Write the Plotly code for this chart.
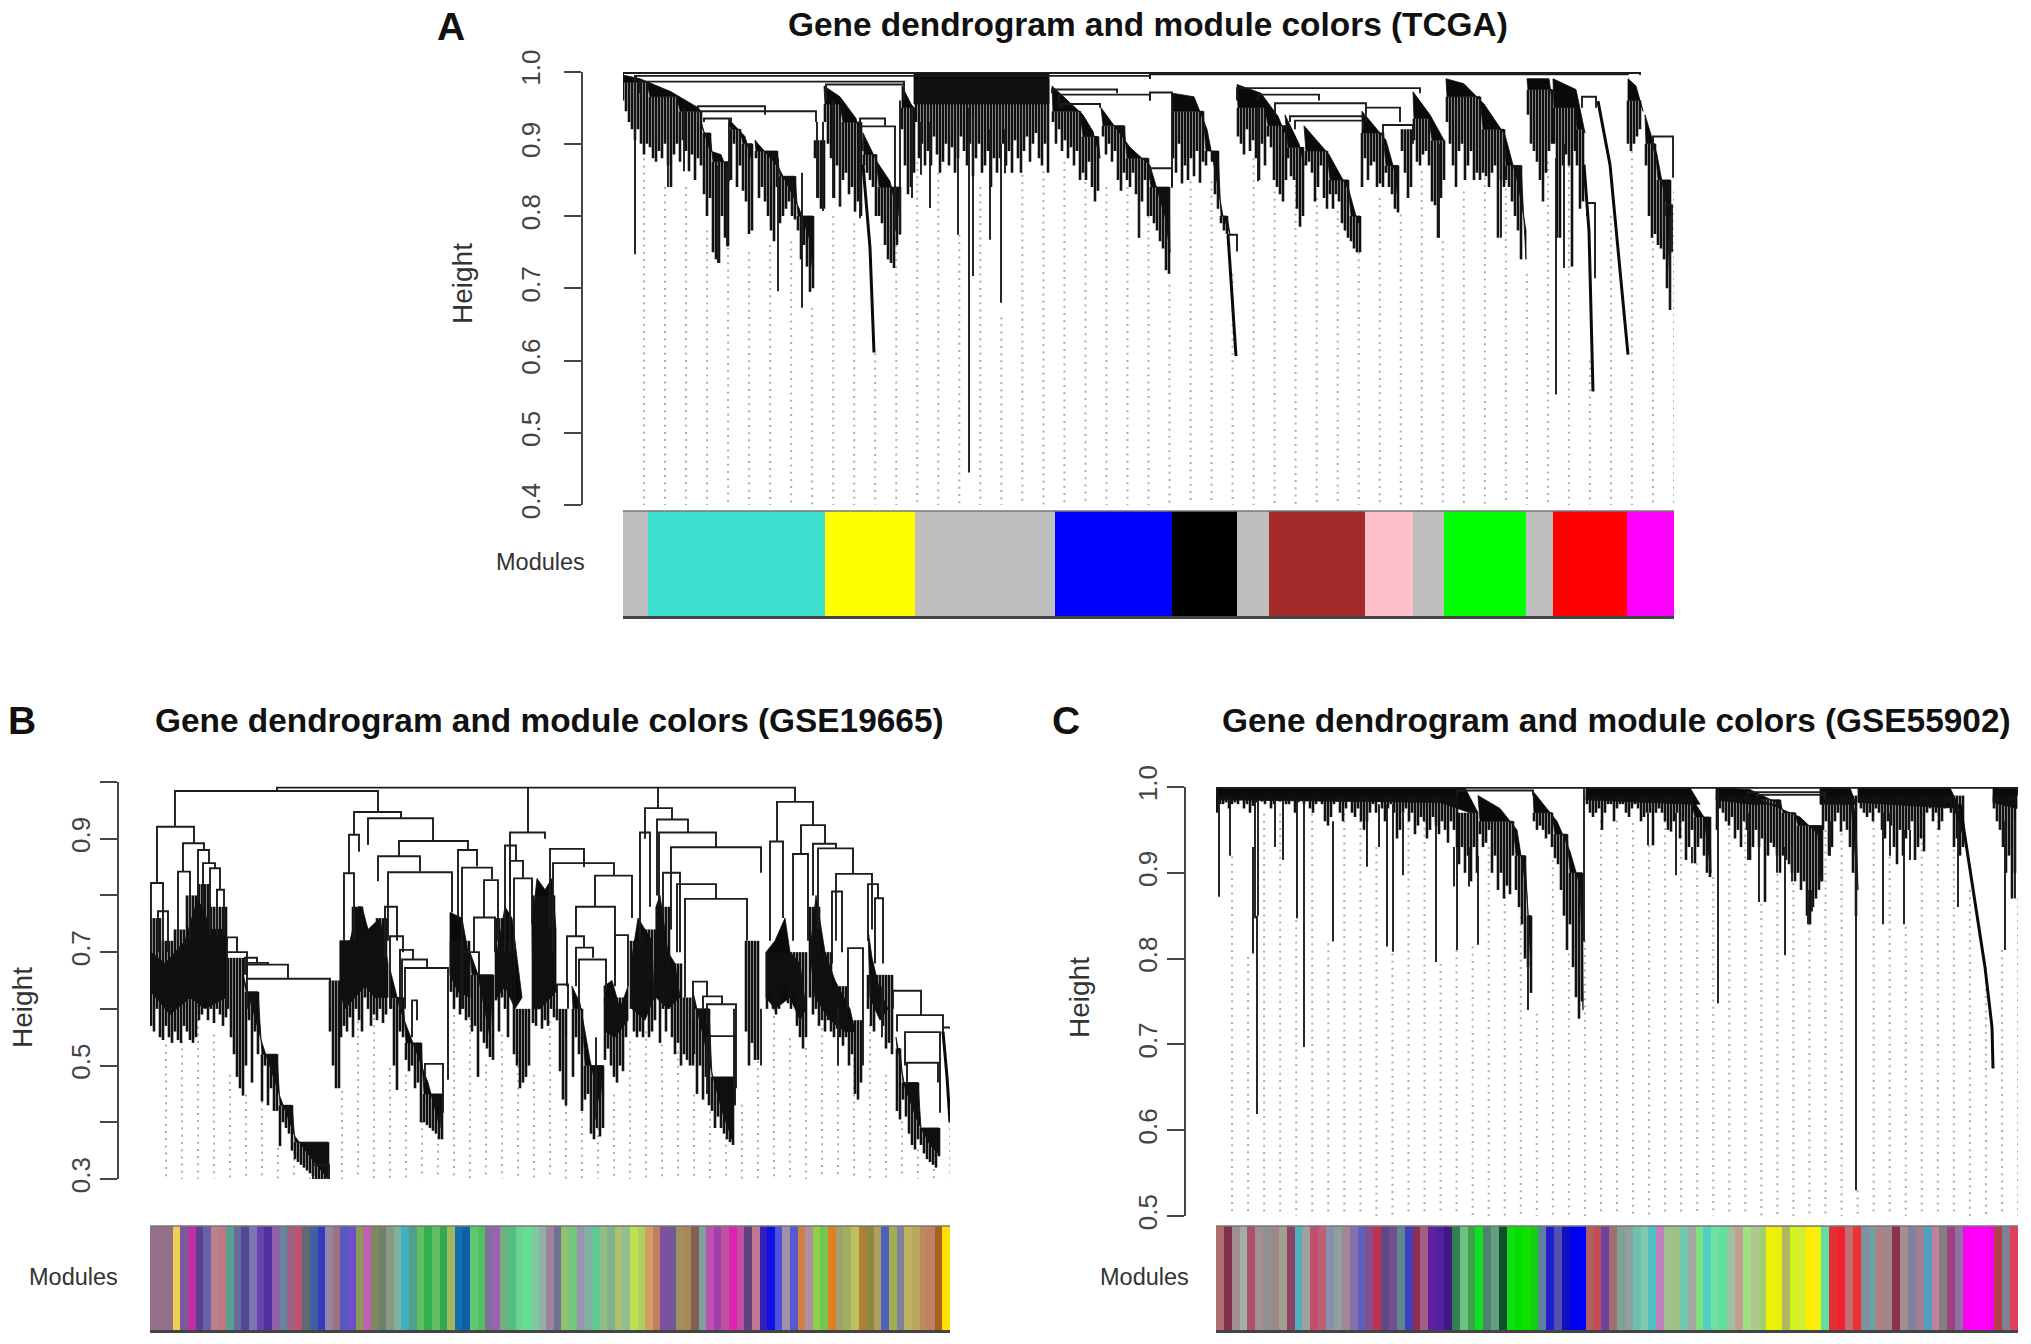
import plotly.graph_objects as go

W, H = 2031, 1344
FRINGE_STEP = 3  # leaf spacing of the drawn fringe columns

# ------------------------------------------------ panel A (TCGA)
A_TICKS = [0.4, 0.5, 0.6, 0.7, 0.8, 0.9, 1.0]
A_TICKTEXT = ["0.4", "0.5", "0.6", "0.7", "0.8", "0.9", "1.0"]
A_MODULE_EDGES = [623, 648, 825, 915, 1055, 1172, 1237, 1269, 1365, 1413, 1444, 1525.5, 1552.5, 1627, 1674]
A_MODULE_COLORS = ["#bebebe", "#40e0d0", "#ffff00", "#bebebe", "#0000ff", "#000000", "#bebebe", "#a52a2a",
                   "#ffc0cb", "#bebebe", "#00ff00", "#bebebe", "#ff0000", "#ff00ff"]
A_GUIDE_TOPS = [.88, .84, .84, .78, .756, .75, .76, .765, .673, .80, .79, .61, .84, .875, .86, .774, .84, .66, .857, .862,
                .875, .857, .84, .84, .83, .705, .848, .848, .72, .88, .834, .853, .825, .807, .75, .825, .802, .862, .765,
                .834, .853, .848, .72, .875, .89, .60, .80, .89, .765, .834]
A_MASSES = [[(914, .998), (1049, .998), (1049, .955), (914, .955)]]
A_SPINES = [
    [(623, .995), (640, .99), (671, .972), (698, .95)],
    [(701, .93), (710, .89), (721, .885), (728, .86)],
    [(728, .935), (745, .91), (752, .875)],
    [(755, .905), (779, .866), (799, .811), (809, .77), (813, .72)],
    [(824, .98), (840, .965), (856, .935), (863, .89)],
    [(863, .915), (877, .875), (890, .848), (898, .80)],
    [(902, .98), (911, .955)],
    [(1052, .98), (1083, .94), (1093, .917), (1100, .88)],
    [(1101, .95), (1130, .895), (1150, .87), (1165, .80), (1170, .75)],
    [(1172, .97), (1194, .965), (1207, .92), (1214, .87), (1223, .80), (1230, .775)],
    [(1237, .982), (1261, .97), (1278, .938), (1285, .915)],
    [(1285, .94), (1299, .90), (1304, .87)],
    [(1304, .925), (1329, .885), (1349, .835), (1358, .79)],
    [(1362, .945), (1386, .905), (1395, .86), (1398, .82)],
    [(1413, .972), (1430, .94), (1444, .905)],
    [(1446, .99), (1464, .983), (1484, .955), (1505, .912), (1518, .845), (1526, .78), (1526, .74)],
    [(1527, .99), (1549, .99), (1552, .96)],
    [(1553, .99), (1576, .975), (1585, .915)],
    [(1628, .99), (1636, .98), (1643, .945)],
    [(1645, .94), (1657, .885), (1667, .81), (1670, .70)],
]
# (first leaf, top of group, bottoms of the columns)
A_FRINGES = [
    (623, .985, [.96, .945, .93, .92, .905, .92, .90, .885, .90]),
    (650, .965, [.895, .88, .875, .89, .88, .90, .87, .84, .885, .90]),
    (680, .945, [.875, .905, .89, .862, .885, .85, .88, .87]),
    (704, .915, [.83, .80, .825]),
    (713, .875, [.75, .74, .735, .80, .77, .758]),
    (731, .92, [.85, .90, .84, .87]),
    (743, .90, [.835, .82, .775, .78]),
    (756, .89, [.88, .825, .84, .82, .80, .78, .765, .84]),
    (780, .855, [.79, .80, .81, .82, .80, .795]),
    (798, .80, [.78, .74, .76, .73, .695, .70]),
    (815, .905, [.88, .825, .81, .81]),
    (825, .955, [.93, .90, .88, .825, .87, .813]),
    (843, .93, [.85, .86, .83, .84, .806, .82, .80]),
    (864, .885, [.87, .86, .85, .84, .80]),
    (879, .84, [.80, .79, .76, .74, .735, .728, .76, .775]),
    (902, .95, [.92, .87, .83, .84, .86]),
    (916, .99, [.93, .88, .90, .87, .89, .87, .91, .885, .86, .875, .90, .87, .895, .86, .88, .91, .89, .87, .90, .855, .88, .90, .86,
                .87, .89, .84, .88, .86, .88, .90, .87, .89, .86, .905, .88, .86, .89, .91, .875, .90, .915, .88, .87, .90, .86]),
    (1053, .945, [.93, .90, .92, .89, .905, .88, .895, .87, .89, .85]),
    (1083, .91, [.86, .85, .875, .84, .82, .835]),
    (1103, .925, [.91, .885, .90, .875, .89, .85, .835, .86]),
    (1127, .88, [.85, .84, .86, .83, .77, .82, .85, .80]),
    (1151, .84, [.80, .79, .78, .765, .755, .725, .72]),
    (1173, .945, [.88, .86, .90, .845, .87, .85, .88, .855, .89, .846, .875]),
    (1206, .89, [.87, .89, .875, .83, .81]),
    (1221, .80, [.79, .78, .775]),
    (1238, .95, [.91, .90, .885, .92, .89, .905, .88, .85, .90, .87]),
    (1268, .925, [.91, .895, .85, .84, .83, .82, .85]),
    (1288, .895, [.88, .855, .85, .81, .785, .80]),
    (1306, .89, [.87, .875, .86, .82, .84, .87, .825, .81]),
    (1330, .85, [.83, .81, .83, .82, .79, .78, .77]),
    (1351, .80, [.765, .755, .75, .75]),
    (1362, .915, [.84, .88, .85, .87, .875, .84, .845, .84]),
    (1386, .87, [.86, .84, .83, .81, .805]),
    (1402, .92, [.89, .86, .825, .84]),
    (1414, .935, [.905, .875, .87, .885, .89, .87]),
    (1432, .905, [.82, .815, .77, .825, .85]),
    (1447, .965, [.93, .90, .87, .84, .89, .90, .85, .87, .89, .85, .86, .85]),
    (1483, .92, [.86, .855, .84, .86, .87, .77, .85, .84]),
    (1506, .87, [.85, .84, .82, .80, .78, .74]),
    (1528, .975, [.94, .90, .89, .875, .85, .82, .86, .89, .90]),
    (1554, .95, [.90, .77, .77, .87, .885, .87, .73, .89]),
    (1577, .92, [.87, .81, .82]),
    (1628, .96, [.90, .89, .90, .91, .92]),
    (1646, .90, [.87, .80, .77, .775]),
    (1658, .85, [.76, .755, .74, .70, .67]),
]
A_CURVES = [
    [(863, .871), (870, .756), (874, .611)],
    [(1228, .774), (1231, .714), (1236, .606)],
    [(1584, .871), (1589, .779), (1593, .557)],
    [(1598, .959), (1610, .871), (1628, .608)],
]
# x, top, bottom of single leaf drops
A_DROPS = [(635, .995, .747), (668, .96, .84), (684, .95, .862), (718, .87, .735), (727, .87, .758), (729, .93, .848),
           (778, .88, .696), (802, .86, .673), (817, .93, .825), (823, .93, .807), (833, .96, .825), (840, .94, .813), (860, .91, .797),
           (900, .96, .774), (912, .95, .825), (921, .93, .857), (930, .93, .811), (958, .93, .774),
           (969, .95, .445), (973, .94, .717), (990, .92, .767), (1001, .90, .68), (1005, .92, .859), (1139, .85, .77),
           (1172, .97, .839), (1258, .95, .848), (1556, .88, .553), (1564, .90, .728), (1670, .80, .67), (1439, .90, .77), (1501, .90, .77)]
# x left, x right, height, bottom of left leg, bottom of right leg
A_LINKS = [(623, 1640, .998, .99, .995), (636, 1150, .994, .99, .99), (640, 904, .986, .97, .98), (1150, 1628, .996, .99, .995),
           (826, 904, .982, .96, .96), (698, 765, .952, .94, .94), (698, 816, .945, .93, .93), (704, 731, .935, .93, .93),
           (860, 885, .935, .92, .925), (860, 895, .924, .90, .78), (1052, 1117, .975, .97, .97), (1059, 1150, .968, .95, .96),
           (1062, 1100, .955, .95, .95), (1150, 1172, .971, .96, .965), (1237, 1420, .977, .96, .97), (1258, 1319, .968, .96, .96),
           (1275, 1366, .956, .94, .95), (1290, 1366, .938, .93, .93), (1295, 1363, .932, .92, .92), (1366, 1400, .95, .94, .93),
           (1383, 1413, .926, .90, .90), (1150, 1172, .866, .85, .84), (1228, 1237, .774, .76, .751), (1587, 1595, .818, .80, .714),
           (1582, 1596, .965, .95, .95), (1653, 1673, .91, .89, .853), (1665, 1672, .815, .80, .75)]

# ------------------------------------------------ panel B (GSE19665)
B_TICKS = [0.3, 0.4, 0.5, 0.6, 0.7, 0.8, 0.9, 1.0]
B_TICKTEXT = ["0.3", "", "0.5", "", "0.7", "", "0.9", ""]
B_MODULE_COLORS = ["#94708a", "#94708a", "#94708a", "#f0d050", "#7a5a9a", "#c030a0", "#5a4090", "#6a60a8", "#b88090", "#c07880", "#5aa090",
                   "#6a6aa0", "#504898", "#7a78b0", "#6a40b0", "#5030a0", "#9060a8", "#60889a", "#a06080", "#c05070", "#606870", "#4060a0",
                   "#3838c0", "#9088a0", "#a07080", "#5858c0", "#7050c8", "#8a9a50", "#c060b0", "#808860", "#70806a", "#8a9a80", "#80b0a0",
                   "#40b0c0", "#50a088", "#60c060", "#30b050", "#60c060", "#30a858", "#a0b860", "#1070b0", "#1060a8", "#60c870", "#50c060",
                   "#8070a0", "#a060b0", "#70b080", "#50c080", "#70d090", "#60e090", "#80c8a0", "#90b0a0", "#a080a0", "#707090", "#90c070",
                   "#70c880", "#a090b0", "#80b0a0", "#60c890", "#90c080", "#80b090", "#b0c070", "#90c090", "#c0e050", "#b0d060", "#d0a060",
                   "#c08060", "#8050a0", "#705898", "#a09060", "#a88858", "#806050", "#80a0a0", "#c050b0", "#a040b0", "#c050a0", "#e020b0",
                   "#c050a0", "#604080", "#c07890", "#3020c0", "#1010e0", "#5050d8", "#a090a8", "#5858d0", "#d08040", "#b090a0", "#90d050",
                   "#70c850", "#e08020", "#a0a070", "#a0b060", "#c0c060", "#b08030", "#8a8a40", "#b0a060", "#5060c0", "#a0b050", "#8080a0",
                   "#c0b060", "#b8a858", "#c08860", "#c08060", "#a86020", "#ffe000"]
B_GUIDE_TOPS = [.537, .543, .607, .555, .484, .449, .437, .355, .349, .302, .285, .455, .578, .584, .496, .484, .402, .375, .602, .584,
                .502, .555, .525, .484, .578, .431, .419, .390, .449, .543, .560, .537, .525, .449, .419, .373, .431, .508, .613, .548,
                .531, .566, .566, .513, .572, .484, .402, .352, .343, .402]
B_MASSES = [
    [(151, .70), (165, .68), (185, .72), (197, .79), (203, .78), (210, .74), (226, .74), (226, .62), (205, .60), (190, .62), (170, .59), (151, .63)],
    [(340, .72), (350, .72), (358, .78), (362, .78), (368, .74), (380, .76), (388, .68), (388, .62), (375, .62), (365, .64), (355, .62), (345, .60), (340, .63)],
    [(450, .77), (462, .76), (470, .68), (470, .62), (458, .63), (450, .66)],
    [(497, .70), (505, .78), (512, .76), (522, .62), (515, .60), (505, .64), (497, .62)],
    [(532, .75), (537, .83), (545, .81), (552, .83), (556, .74), (556, .63), (540, .60), (533, .60)],
    [(604, .64), (612, .65), (620, .60), (628, .64), (628, .58), (615, .55), (605, .56)],
    [(631, .68), (638, .76), (645, .74), (652, .72), (654, .62), (645, .58), (632, .60)],
    [(656, .78), (660, .80), (668, .70), (675, .68), (680, .62), (668, .60), (656, .62)],
    [(766, .70), (775, .72), (785, .76), (790, .70), (800, .68), (806, .60), (800, .58), (790, .62), (775, .60), (766, .62)],
    [(810, .70), (816, .80), (825, .70), (835, .65), (850, .60), (855, .56), (845, .56), (830, .58), (815, .62)],
    [(868, .74), (872, .69), (880, .63), (888, .60), (880, .58), (870, .62)],
]
B_SPINES = [
    [(243, .66), (262, .54), (280, .445), (295, .375), (312, .335), (328, .30)],
    [(390, .67), (400, .60), (415, .53), (428, .47), (440, .39)],
    [(470, .70), (478, .66), (490, .55)],
    [(572, .64), (580, .61), (590, .51), (600, .43)],
    [(693, .63), (710, .50), (722, .42), (732, .37)],
    [(896, .55), (905, .46), (918, .40), (930, .36), (938, .345)],
]
B_FRINGES = [
    (151, .76, [.57, .56, .60, .55]),
    (163, .72, [.545, .57, .55, .54]),
    (175, .74, [.56, .545, .54, .57]),
    (187, .80, [.56, .545, .54, .55]),
    (199, .82, [.58, .59, .615, .58]),
    (211, .78, [.60, .575, .60, .59, .57, .585]),
    (228, .69, [.60, .55, .52, .48, .46, .447]),
    (246, .63, [.50, .58, .47, .56, .52]),
    (262, .52, [.437, .50, .43, .46, .42, .42]),
    (280, .43, [.358, .40, .39, .38, .35]),
    (295, .365, [.335, .33, .325, .32, .315, .31, .305, .30, .295, .29, .288, .285]),
    (330, .65, [.56, .50, .46, .46]),
    (341, .72, [.55, .57, .56, .585]),
    (353, .78, [.55, .60, .58, .56]),
    (365, .74, [.62, .60, .57, .59]),
    (377, .76, [.58, .60, .575, .59]),
    (391, .62, [.60, .50, .457, .56, .55]),
    (406, .54, [.51, .49, .50, .46, .47, .40]),
    (424, .45, [.40, .395, .39, .385, .38, .37, .37]),
    (451, .72, [.63, .60, .62, .59, .60, .58, .585]),
    (472, .66, [.56, .57, .48, .56, .54, .53, .515, .51]),
    (496, .76, [.615, .56, .62, .60]),
    (508, .72, [.55, .62, .52]),
    (517, .60, [.50, .46, .47, .48, .50]),
    (533, .80, [.575, .57, .60, .565, .58, .57, .60, .585]),
    (557, .60, [.58, .49, .44, .43]),
    (573, .60, [.48, .55, .52, .42]),
    (585, .50, [.44, .45, .38, .37, .39, .375, .39]),
    (605, .62, [.51, .53, .50, .48, .47, .50, .49, .55]),
    (631, .72, [.60, .56, .55]),
    (640, .74, [.56, .55, .60, .55, .56, .58]),
    (657, .78, [.62, .54, .60, .56, .60]),
    (672, .68, [.55, .52, .54, .50]),
    (684, .62, [.52, .51, .50, .50]),
    (694, .60, [.52, .45, .50, .44, .48, .43]),
    (712, .48, [.42, .39, .41, .39, .38, .37, .365, .36]),
    (746, .72, [.56, .50, .54, .51, .51]),
    (767, .70, [.60, .62, .60, .59, .60, .62, .64, .61, .60, .62, .57, .55, .53, .55]),
    (810, .78, [.62, .59, .60, .57]),
    (822, .70, [.58, .56, .58, .56]),
    (834, .64, [.55, .565, .55, .535, .55]),
    (849, .58, [.50, .52, .45, .44, .47]),
    (868, .66, [.60, .57, .56, .60, .59, .57, .53, .54, .52]),
    (897, .53, [.42, .405]),
    (903, .47, [.44, .41, .38, .36, .352, .37]),
    (921, .39, [.36, .345, .335, .33, .325, .32, .34]),
]
B_CURVES = [[(943, .56), (947, .48), (950, .40)]]
B_DROPS = [(596, .55, .405), (566, .55, .43), (734, .60, .46), (735, .55, .43), (707, .55, .45),
           (761, .60, .50), (951, .56, .534), (838, .60, .50), (882, .64, .55)]
B_LINKS = [(277, 795, .99, .985, .965), (175, 378, .984, .921, .947), (157, 194, .921, .822, .892), (151, 163, .822, .70, .70),
           (158, 168, .772, .70, .70), (183, 204, .892, .842, .88), (178, 190, .842, .70, .72), (198, 209, .88, .79, .857),
           (203, 215, .857, .778, .848), (210, 220, .848, .73, .81), (217, 224, .81, .73, .73), (227, 237, .726, .70, .70),
           (227, 247, .70, .60, .66), (245, 257, .69, .66, .68), (247, 268, .681, .66, .678), (247, 288, .678, .653, .653),
           (247, 330, .653, .60, .60), (354, 401, .947, .907, .936), (368, 433, .936, .889, .896), (349, 359, .907, .839, .877),
           (344, 354, .839, .72, .72), (399, 468, .896, .869, .88), (378, 420, .869, .825, .842), (388, 452, .841, .72, .77),
           (458, 477, .88, .76, .851), (462, 492, .849, .70, .829), (484, 498, .827, .76, .72), (474, 495, .761, .70, .70),
           (462, 479, .70, .60, .66), (385, 397, .78, .69, .72), (390, 403, .728, .60, .70), (400, 413, .704, .60, .687),
           (402, 427, .687, .60, .672), (405, 448, .672, .60, .475), (412, 417, .615, .55, .58), (425, 443, .503, .47, .417),
           (510, 545, .911, .80, .90), (505, 516, .888, .70, .861), (510, 523, .861, .70, .83), (514, 532, .83, .70, .75),
           (550, 584, .882, .74, .85), (553, 614, .857, .70, .835), (595, 632, .835, .78, .76), (576, 615, .78, .728, .66),
           (567, 584, .728, .64, .708), (576, 593, .708, .64, .69), (579, 606, .687, .60, .63), (557, 568, .643, .58, .60),
           (615, 628, .73, .64, .64), (645, 672, .954, .90, .934), (640, 650, .911, .72, .78), (657, 688, .934, .80, .911),
           (659, 716, .911, .78, .885), (671, 761, .885, .74, .84), (663, 680, .84, .76, .70), (677, 716, .82, .70, .794),
           (685, 747, .794, .62, .72), (693, 707, .648, .58, .622), (703, 722, .622, .60, .608), (707, 736, .608, .57, .46),
           (710, 735, .552, .50, .43), (777, 813, .965, .895, .924), (770, 783, .895, .72, .76), (801, 825, .924, .873, .891),
           (793, 808, .873, .72, .72), (813, 836, .891, .80, .883), (818, 853, .883, .74, .838), (836, 872, .838, .72, .74),
           (832, 842, .807, .68, .70), (848, 863, .707, .60, .50), (868, 878, .82, .72, .795), (875, 883, .795, .68, .68),
           (893, 921, .632, .60, .589), (897, 943, .589, .56, .567), (905, 940, .559, .50, .417), (907, 938, .505, .47, .47),
           (943, 951, .567, .55, .534), (528, 528, .99, .911, .911), (658, 658, .99, .954, .954), (313, 329, .325, .30, .30)]

# ------------------------------------------------ panel C (GSE55902)
C_TICKS = [0.5, 0.6, 0.7, 0.8, 0.9, 1.0]
C_TICKTEXT = ["0.5", "0.6", "0.7", "0.8", "0.9", "1.0"]
C_MODULE_COLORS = ["#b07070", "#803050", "#a09090", "#a0b0a8", "#b05070", "#a09090", "#909090", "#a08888", "#a0a090", "#904060", "#50b0c0",
                   "#a0a0a0", "#c05070", "#c06070", "#8890b0", "#90a0a0", "#a08898", "#8870a8", "#6060c0", "#805090", "#c03050", "#604880",
                   "#705090", "#608890", "#4040c0", "#903050", "#a06080", "#6020a0", "#5020a0", "#401880", "#308050", "#70c080", "#40a050",
                   "#10e020", "#508070", "#60a080", "#105030", "#10e010", "#00e000", "#10e000", "#10d010", "#6080a0", "#2020d0", "#5050b0",
                   "#1010c0", "#0000f0", "#0000ff", "#b06060", "#c05050", "#7040a0", "#a07070", "#80a090", "#90a0a0", "#70c0b0", "#80c8b0",
                   "#50c0c0", "#c080c0", "#a0c090", "#a0c080", "#70c8b0", "#a0a8a0", "#80e080", "#50d0c0", "#70e0a0", "#60e0a0", "#a0c0a0",
                   "#c0a090", "#a0e080", "#b0c890", "#a0d070", "#f0f000", "#e8f010", "#b0b860", "#d0f020", "#d0f030", "#ffea00", "#f8f010",
                   "#60e0a0", "#e03030", "#f02030", "#c07070", "#f03030", "#8090a0", "#70a0a0", "#b08080", "#a08888", "#903050", "#a09090",
                   "#8080a0", "#a08090", "#50a0c0", "#c080a0", "#808080", "#a04080", "#9070a0", "#ff00f0", "#ff00ff", "#ff00ff", "#f800f0",
                   "#b04050", "#808090", "#e04060"]
C_GUIDE_TOPS = [.919, .802, .969, .969, .845, .969, .818, .969, .969, .93, .806, .969, .961, .794, .81, .814, .93, .872, .849, .736,
                .915, .806, .821, .961, .961, .958, .932, .969, .969, .911, .895, .969, .961, .864, .899, .888, .841, .95, .946, .53,
                .969, .919, .837, .969, .969, .969, .88, .79, .81, .87]
C_MASSES = [
    [(1216, .999), (1465, .999), (1478, .97), (1470, .97), (1440, .982), (1216, .985)],
    [(1586, .999), (1690, .999), (1700, .98), (1690, .98), (1586, .985)],
    [(1716, .999), (1750, .997), (1780, .98), (1750, .98), (1716, .985)],
    [(1820, .999), (1850, .999), (1856, .98), (1820, .98)],
    [(1858, .999), (1950, .999), (1960, .975), (1858, .982)],
    [(1993, .999), (2017, .999), (2017, .975), (1993, .982)],
]
C_SPINES = [
    [(1478, .99), (1500, .975), (1517, .95), (1527, .875), (1531, .79)],
    [(1533, .995), (1557, .96), (1570, .925), (1580, .885), (1582, .82), (1583, .74)],
    [(1690, .99), (1704, .965), (1711, .90)],
    [(1750, .99), (1800, .965), (1818, .945), (1821, .89)],
    [(1850, .995), (1856, .965), (1858, .88)],
    [(1950, .99), (1960, .97), (1964, .94)],
]
C_FRINGES = [
    (1217, .99, [.97, .98, .98, .982, .975, .98, .982, .98, .985, .975, .98, .97, .978, .982, .985, .983, .98, .985, .975, .98, .985, .983, .985, .98, .98,
                 .985, .97, .982, .985, .98, .985, .975, .97, .98, .985, .98, .96, .955, .965, .98, .983, .97, .96, .975, .985, .97, .965, .975, .96, .95,
                 .96, .97, .98, .97, .985, .975, .96, .975, .98, .97, .94, .95, .97, .975, .96, .97, .945, .955, .965, .96, .94, .95, .965, .955, .945, .96,
                 .95, .935, .96, .95, .93]),
    (1459, .97, [.91, .93, .90, .92, .89, .93, .90]),
    (1480, .96, [.945, .93, .935, .95, .90, .92, .88, .90, .87, .885, .875, .92]),
    (1516, .92, [.88, .86, .84, .80]),
    (1528, .85, [.79, .76]),
    (1534, .97, [.96, .95, .955, .95, .94, .945, .93]),
    (1555, .945, [.917, .91, .88, .85, .81]),
    (1570, .90, [.84, .79, .755, .73, .75]),
    (1587, .99, [.98, .97, .965, .97, .975, .95, .97, .98, .98, .96, .975, .98, .98, .97, .965, .975, .98, .975, .96, .965, .97, .97, .932, .97, .975, .97,
                 .96, .95, .948, .96, .97, .94, .96, .915, .93, .95]),
    (1695, .965, [.911, .93, .94, .92, .90, .895]),
    (1717, .99, [.95, .975, .97, .96, .955, .965, .94, .95, .93, .96, .95, .915]),
    (1753, .985, [.93, .95, .93, .94, .866, .92, .935, .93, .92, .90]),
    (1783, .97, [.92, .915, .91, .90, .89]),
    (1798, .955, [.90, .88, .89, .85, .84, .86, .87, .88, .89]),
    (1823, .99, [.95, .96, .92, .93, .96, .97, .948, .96, .95, .93, .90, .85]),
    (1861, .99, [.975, .97, .965, .97, .96, .975, .97, .95, .94, .96, .955, .93, .91, .95, .92, .94, .95, .96, .915, .93, .94, .925, .97, .975, .96, .97, .95,
                 .96, .975, .98, .97, .93, .94, .92, .93]),
    (1994, .99, [.975, .96, .95, .93, .90, .92, .87, .90]),
]
C_CURVES = [[(1960, .98), (1972, .89), (1985, .79), (1992, .72), (1993, .672)]]
C_DROPS = [(1219, .985, .872), (1230, .985, .92), (1255, .985, .847), (1258, .985, .85), (1253, .93, .806), (1257, .85, .619), (1275, .985, .93), (1283, .985, .915),
           (1297, .985, .847), (1304, .985, .697), (1333, .96, .82), (1367, .985, .907), (1379, .98, .93), (1387, .98, .814),
           (1393, .98, .808), (1403, .97, .897), (1436, .96, .796), (1457, .93, .81), (1454, .93, .884), (1469, .93, .884), (1478, .92, .816),
           (1584, .998, .82), (1648, .97, .932), (1676, .97, .897), (1692, .93, .911), (1718, .998, .748), (1748, .97, .915), (1759, .95, .866),
           (1777, .93, .90), (1785, .93, .804), (1792, .93, .89), (1808, .88, .84), (1812, .88, .855), (1830, .96, .92), (1856, .95, .53),
           (1883, .97, .84), (1890, .97, .92), (1904, .95, .84), (1910, .95, .915), (1958, .96, .86), (2005, .96, .81), (2015, .96, .87),
           (1528, .85, .74)]
C_LINKS = [(1216, 2018, .999, .99, .99), (1457, 1533, .996, .99, .99), (1748, 1825, .994, .99, .99), (1757, 1825, .991, .985, .985)]


def fill_xy(masses):
    xs, ys = [], []
    for poly in masses:
        xs += [q[0] for q in poly] + [poly[0][0], None]
        ys += [q[1] for q in poly] + [poly[0][1], None]
    return xs, ys


def line_xy(curves):
    xs, ys = [], []
    for c in curves:
        xs += [q[0] for q in c] + [None]
        ys += [q[1] for q in c] + [None]
    return xs, ys


def tree_xy(links, drops):
    xs, ys = [], []
    for x0, x1, h, l0, l1 in links:
        xs += [x0, x0, x1, x1, None]
        ys += [l0, h, h, l1, None]
    for x, top, low in drops:
        xs += [x, x, None]
        ys += [top, low, None]
    return xs, ys


def fringe_xy(groups):
    xs, ys = [], []
    for x0, top, lows in groups:
        for k, low in enumerate(lows):
            xs += [x0 + k * FRINGE_STEP, x0 + k * FRINGE_STEP, None]
            ys += [top, low, None]
    return xs, ys


def spine_polys(spines, groups):
    """Close each cascade's upper edge along the tops of the columns that lie wholly under it."""
    polys = []
    for s in spines:
        lo, hi = min(q[0] for q in s) - 3, max(q[0] for q in s) + 3
        poly = list(s)
        for x0, top, lows in sorted(groups, key=lambda g: -g[0]):
            last = x0 + (len(lows) - 1) * FRINGE_STEP
            if lo <= x0 and last <= hi:
                poly += [(last, top), (x0, top)]
        polys.append(poly)
    return polys


PANELS = [
    dict(tag="A", x0=623, x1=1674, axis_x=582, y_top=71.5, y_bot=505, lo=0.4, hi=1.0, ticks=A_TICKS, text=A_TICKTEXT, standoff=14,
         bar_top=511, bar_bot=616, guide=A_GUIDE_TOPS, guide_lo=0.392, masses=A_MASSES, spines=A_SPINES, fringes=A_FRINGES,
         curves=A_CURVES, links=A_LINKS, drops=A_DROPS,
         title="Gene dendrogram and module colors (TCGA)", title_xy=(1148, 24), letter_xy=(451, 26),
         height_xy=(462, 284), modules_xy=(540, 562)),
    dict(tag="B", x0=150, x1=950, axis_x=118, y_top=782, y_bot=1179, lo=0.3, hi=1.0, ticks=B_TICKS, text=B_TICKTEXT, standoff=0,
         bar_top=1226, bar_bot=1330, guide=B_GUIDE_TOPS, guide_lo=0.222, masses=B_MASSES, spines=B_SPINES, fringes=B_FRINGES,
         curves=B_CURVES, links=B_LINKS, drops=B_DROPS,
         title="Gene dendrogram and module colors (GSE19665)", title_xy=(549, 720), letter_xy=(22, 720),
         height_xy=(22, 1008), modules_xy=(73, 1277)),
    dict(tag="C", x0=1216, x1=2018, axis_x=1185, y_top=787, y_bot=1216, lo=0.5, hi=1.0, ticks=C_TICKS, text=C_TICKTEXT, standoff=0,
         bar_top=1226, bar_bot=1330, guide=C_GUIDE_TOPS, guide_lo=0.489, masses=C_MASSES, spines=C_SPINES, fringes=C_FRINGES,
         curves=C_CURVES, links=C_LINKS, drops=C_DROPS,
         title="Gene dendrogram and module colors (GSE55902)", title_xy=(1616, 720), letter_xy=(1066, 720),
         height_xy=(1079, 998), modules_xy=(1144, 1277)),
]
MODULES = {
    "A": (A_MODULE_EDGES, A_MODULE_COLORS),
    "B": ([150 + 800 * i / len(B_MODULE_COLORS) for i in range(len(B_MODULE_COLORS) + 1)], B_MODULE_COLORS),
    "C": ([1216 + 802 * i / len(C_MODULE_COLORS) for i in range(len(C_MODULE_COLORS) + 1)], C_MODULE_COLORS),
}

SANS = "Liberation Sans, Arial, sans-serif"
fig = go.Figure()
layout = dict(width=W, height=H, margin=dict(l=0, r=0, t=0, b=0, autoexpand=False), paper_bgcolor="white", plot_bgcolor="white",
              showlegend=False, bargap=0, font=dict(family=SANS, color="#222222"))
notes = []
rules = []


def px(v):
    return v / W


def py(v):
    return 1 - v / H


def note(text, xy, size, color, angle=0):
    return dict(text=text, x=px(xy[0]), y=py(xy[1]), font=dict(size=size, color=color), textangle=angle,
                xref="paper", yref="paper", showarrow=False, xanchor="center", yanchor="middle")


for i, p in enumerate(PANELS):
    a = 2 * i + 1
    b = 2 * i + 2
    xa, ya = f"x{a}", f"y{a}"
    xb, yb = f"x{b}", f"y{b}"
    layout[f"xaxis{a}"] = dict(domain=[px(p["x0"]), px(p["x1"])], range=[p["x0"], p["x1"]], visible=False, anchor=ya)
    layout[f"yaxis{a}"] = dict(domain=[py(p["y_bot"]), py(p["y_top"])], range=[p["lo"], p["hi"]], anchor="free",
                               position=px(p["axis_x"]), side="left", showgrid=False, zeroline=False, showline=True,
                               linecolor="#444444", linewidth=2, ticks="outside", ticklen=17, tickwidth=2, tickcolor="#444444",
                               tickmode="array", tickvals=p["ticks"], ticktext=p["text"], tickangle=-90,
                               ticklabelstandoff=p["standoff"], tickfont=dict(family=SANS, size=26, color="#444444"))
    layout[f"xaxis{b}"] = dict(domain=[px(p["x0"]), px(p["x1"])], range=[p["x0"], p["x1"]], anchor=yb, showgrid=False, zeroline=False,
                               showticklabels=False, ticks="", showline=True, linecolor="#444444", linewidth=3)
    layout[f"yaxis{b}"] = dict(domain=[py(p["bar_bot"]), py(p["bar_top"])], range=[0, 1], anchor=xb, visible=False)
    rules.append(dict(type="line", xref="paper", yref="paper", x0=px(p["x0"]), x1=px(p["x1"]), y0=py(p["bar_top"]), y1=py(p["bar_top"]),
                      line=dict(color="#777777", width=1.5)))

    # dotted guide lines
    n = len(p["guide"])
    step = (p["x1"] - p["x0"]) / n
    gx, gy = [], []
    for k, top in enumerate(p["guide"]):
        gx += [p["x0"] + (k + 1) * step] * 2 + [None]
        gy += [top, p["guide_lo"], None]
    common = dict(xaxis=xa, yaxis=ya, mode="lines", cliponaxis=False, hoverinfo="skip")
    fig.add_trace(go.Scatter(x=gx, y=gy, line=dict(color="#adadad", width=2, dash="2px,5.2px"), **common))
    # solid black cores, and the cascades filled from their upper edge to the columns
    mx, my = fill_xy(p["masses"] + spine_polys(p["spines"], p["fringes"]))
    fig.add_trace(go.Scatter(x=mx, y=my, fill="toself", fillcolor="#0a0a0a", line=dict(color="#0a0a0a", width=0.8), **common))
    # dense columns of leaves
    fx, fy = fringe_xy(p["fringes"])
    fig.add_trace(go.Scatter(x=fx, y=fy, line=dict(color="#111111", width=2.6), **common))
    # tree branches
    tx, ty = tree_xy(p["links"], p["drops"])
    fig.add_trace(go.Scatter(x=tx, y=ty, line=dict(color="#1c1c1c", width=1.9), **common))
    # long curved cascades
    cx, cy = line_xy(p["curves"])
    fig.add_trace(go.Scatter(x=cx, y=cy, line=dict(color="#0a0a0a", width=3), **common))
    # module colour strip
    edges, colors = MODULES[p["tag"]]
    fig.add_trace(go.Bar(x=[(edges[k] + edges[k + 1]) / 2 for k in range(len(colors))], y=[1] * len(colors),
                         width=[edges[k + 1] - edges[k] for k in range(len(colors))], xaxis=xb, yaxis=yb,
                         marker=dict(color=colors, line=dict(width=0)), hoverinfo="skip"))
    notes.append(note("<b>" + p["title"] + "</b>", p["title_xy"], 33.4, "#111111"))
    notes.append(note("<b>" + p["tag"] + "</b>", p["letter_xy"], 39, "#111111"))
    notes.append(note("Height", p["height_xy"], 28, "#333333", -90))
    notes.append(note("Modules", p["modules_xy"], 23.5, "#333333"))

layout["annotations"] = notes
layout["shapes"] = rules
fig.update_layout(**layout)
fig.write_html("out.html", config=dict(displayModeBar=False), post_script="document.body.style.margin='0';")
